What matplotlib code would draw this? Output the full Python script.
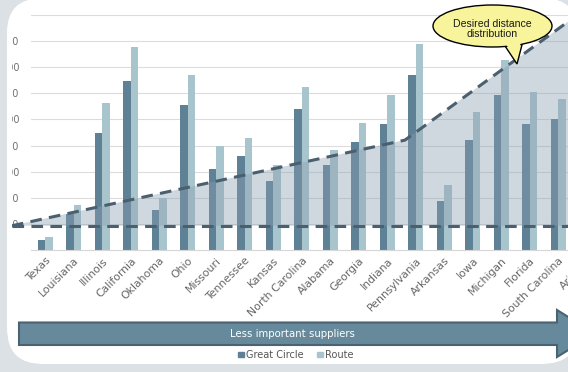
import matplotlib
matplotlib.use('Agg')
import matplotlib.pyplot as plt
import matplotlib.transforms as mtrans
from matplotlib.patches import FancyBboxPatch, Polygon, Ellipse, Patch, PathPatch, Rectangle
from matplotlib.path import Path
import numpy as np

# ---------------- data ----------------
states = ["Texas", "Louisiana", "Illinois", "California", "Oklahoma", "Ohio",
          "Missouri", "Tennessee", "Kansas", "North Carolina", "Alabama",
          "Georgia", "Indiana", "Pennsylvania", "Arkansas", "Iowa", "Michigan",
          "Florida", "South Carolina", "Arizona"]
great_circle = [38, 137, 450, 647, 155, 555, 310, 362, 263, 542, 324, 415,
                483, 670, 188, 423, 592, 483, 500, 460]
route = [50, 174, 562, 777, 199, 670, 397, 430, 327, 626, 385, 487,
         592, 790, 249, 528, 727, 607, 577, 560]
y_ticks = [100, 200, 300, 400, 500, 600, 700, 800, 900]
y_tick_labels = ["100", "200", "300", "400", "500", "600", "700", "800", "900"]
baseline_level = 93
desired_x = [-1.17, 12.62, 20.0]
desired_y = [93, 421, 1006]
series_names = ["Great Circle", "Route"]
arrow_text = "Less important suppliers"
callout_text = "Desired distance\ndistribution"

# ---------------- style ----------------
W, H = 568, 372
BG = '#dbe1e5'
C_GC = '#5f8196'
C_RT = '#a8c5cd'
C_DASH = '#4b5f6e'
C_SHADE = '#8a9fb0'

fig = plt.figure(figsize=(W / 100, H / 100), dpi=100, facecolor=BG)
pxT = mtrans.Affine2D().scale(1 / W, -1 / H).translate(0, 1) + fig.transFigure

panel = FancyBboxPatch((7, -2), 578 - 7, 364 + 2,
                       boxstyle="round,pad=0,rounding_size=35",
                       transform=pxT, facecolor='white', edgecolor='none',
                       zorder=-5)
fig.patches.append(panel)

# axes: x -0.5 at px 31, 28.5 px per category; y 0 at px 250, 26.1 px per 100
ax_left = 31
ax_right = 31 + 20 * 28.5
ax_bottom = 250
ax_top = 250 - 10 * 26.1
ax = fig.add_axes([ax_left / W, 1 - ax_bottom / H,
                   (ax_right - ax_left) / W, (ax_bottom - ax_top) / H])
ax.set_facecolor('none')
ax.set_xlim(-0.5, 19.5)
ax.set_ylim(0, 1000)

x = np.arange(len(states))
bw = 0.265
b1 = ax.bar(x - bw / 2, great_circle, bw, color=C_GC, zorder=2, label=series_names[0])
b2 = ax.bar(x + bw / 2, route, bw, color=C_RT, zorder=2, label=series_names[1])

ax.set_yticks(y_ticks)
ax.set_yticklabels(y_tick_labels)
ax.yaxis.grid(True, color='#dcdcdc', lw=0.8, zorder=0)
ax.set_axisbelow(True)
for s in ['top', 'right', 'left']:
    ax.spines[s].set_visible(False)
ax.spines['bottom'].set_color('#d6d6d6')
ax.spines['bottom'].set_linewidth(0.8)
ax.tick_params(axis='y', length=0, pad=8.5, labelsize=7, labelcolor='#707070')
ax.tick_params(axis='x', length=0, pad=4)
ax.set_xticks(x)
ax.set_xticklabels(states, rotation=45, ha='right', va='top',
                   rotation_mode='anchor', fontsize=7.8, color='#666666')

# shaded region and dashed lines
fb = ax.fill_between(desired_x, [baseline_level] * len(desired_x), desired_y,
                     color=C_SHADE, alpha=0.4, lw=0, zorder=3)
l1, = ax.plot([desired_x[0], desired_x[-1]], [baseline_level, baseline_level],
              color=C_DASH, lw=2.2, ls=(0, (3.8, 2.4)), zorder=4)
l2, = ax.plot(desired_x, desired_y, color=C_DASH, lw=2.2,
              ls=(0, (3.8, 2.4)), zorder=4)
for art in [fb, l1, l2]:
    art.set_clip_box(None)
    art.set_clip_path(panel)

# white cover strips (the source chart's value labels are cropped by its panel)
for rx, ry, rw, rh in [(6, 4, 5.6, 300), (6, 4, 13, 22)]:
    fig.patches.append(Rectangle((rx, ry), rw, rh, transform=pxT,
                                 facecolor='white', edgecolor='none', zorder=0.9))

# grey frame outside the rounded white panel
inner = panel.get_path().to_polygons()[0]
outer = np.array([(-30, -30), (W + 30, -30), (W + 30, H + 30), (-30, H + 30)], float)


def _area(p):
    p = np.asarray(p)
    return 0.5 * np.sum(p[:-1, 0] * p[1:, 1] - p[1:, 0] * p[:-1, 1])


inner = np.asarray(inner)
if np.sign(_area(np.vstack([inner, inner[:1]]))) == np.sign(_area(np.vstack([outer, outer[:1]]))):
    inner = inner[::-1]
verts = np.vstack([outer, outer[:1], inner, inner[:1]])
codes = ([Path.MOVETO] + [Path.LINETO] * 3 + [Path.CLOSEPOLY] +
         [Path.MOVETO] + [Path.LINETO] * (len(inner) - 1) + [Path.CLOSEPOLY])
frame = PathPatch(Path(verts, codes), transform=pxT, facecolor=BG,
                  edgecolor='none', zorder=1)
fig.patches.append(frame)

# bottom arrow
arrow = Polygon([(19, 322.5), (557, 322.5), (557, 310), (595, 333.5),
                 (557, 357), (557, 345), (19, 345)], closed=True,
                transform=pxT, facecolor='#668a9c', edgecolor='#4a6272',
                lw=1.5, zorder=5)
fig.patches.append(arrow)
fig.text(292 / W, 1 - 334 / H, arrow_text, color='white', fontsize=7.3,
         ha='center', va='center', zorder=6)

# legend
fig.legend(handles=[Patch(color=C_GC), Patch(color=C_RT)], labels=series_names,
           loc='center', bbox_to_anchor=(296 / W, 1 - 355 / H), ncol=2,
           frameon=False, fontsize=7, handlelength=0.55, handleheight=0.55,
           handletextpad=0.25, columnspacing=1.4, labelcolor='#555555')

# callout bubble
YEL = '#f8f49c'
tail = Polygon([(503, 43), (517, 64), (523, 41)], closed=True, transform=pxT,
               facecolor=YEL, edgecolor='black', lw=1.0, zorder=7)
ell = Ellipse((492.5, 26), 119, 42, transform=pxT, facecolor=YEL,
              edgecolor='black', lw=1.0, zorder=8)
cover = Polygon([(505.5, 43.5), (516.5, 60), (521, 41.5), (514, 38)], closed=True,
                transform=pxT, facecolor=YEL, edgecolor='none', zorder=9)
for p in [tail, ell, cover]:
    fig.patches.append(p)
fig.text(492.5 / W, 1 - 29 / H, callout_text, ha='center', va='center',
         fontsize=7.6, linespacing=1.1, color='#1a1a1a', zorder=10,
         family=['Liberation Sans Narrow', 'Liberation Sans', 'DejaVu Sans'])

fig.savefig('out.png', dpi=100, facecolor=BG)
